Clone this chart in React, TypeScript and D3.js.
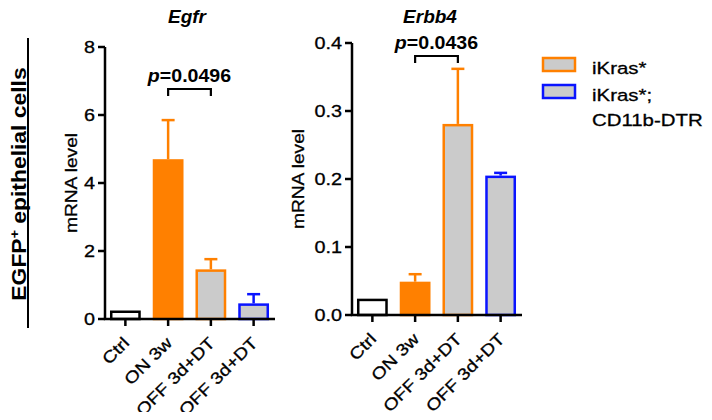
import React from 'react';
import * as d3 from 'd3';

const groups = ['Ctrl', 'ON 3w', 'OFF 3d+DT', 'OFF 3d+DT'];
const egfrMean = [0.25, 4.7, 1.46, 0.46];
const egfrErr = [0, 5.85, 1.76, 0.73];
const erbb4Mean = [0.024, 0.049, 0.281, 0.205];
const erbb4Err = [0, 0.06, 0.362, 0.209];
const egfrTicks = [0, 2, 4, 6, 8];
const erbb4Ticks = [0, 0.1, 0.2, 0.3, 0.4];
const legendLabels = [['iKras*'], ['iKras*;', 'CD11b-DTR']];

const ORANGE = '#ff8000';
const BLUE = '#0a14ff';
const GREY = '#cbcbcb';
const FONT = 'Liberation Sans, Arial, Helvetica, sans-serif';
const SX = 1.18; // the source font runs wider than Arial

const fills = ['#ffffff', ORANGE, GREY, GREY];
const strokes = ['#000000', ORANGE, ORANGE, BLUE];

// text stretched along its own direction
const T = ({ x, y, rot = 0, sx = SX, anchor = 'start', size, weight = 'normal', italic = false, children }: any) => (
  <g transform={`translate(${x},${y}) rotate(${rot}) scale(${sx},1)`}>
    <text textAnchor={anchor} fontSize={size} fontWeight={weight} fontStyle={italic ? 'italic' : 'normal'}
      stroke={weight === 'normal' ? '#000' : 'none'} strokeWidth={0.3}>{children}</text>
  </g>
);

type PanelProps = {
  title: string;
  means: number[];
  errs: number[];
  ticks: number[];
  yMax: number;
  fmt: (v: number) => string;
  x0: number;
  base: number;
  top: number;
  labelX: number;
  pText: string;
  pY: number;
  titleX: number;
};

const Panel = ({ title, means, errs, ticks, yMax, fmt, x0, base, top, labelX, pText, pY, titleX }: PanelProps) => {
  const x = d3.scaleBand<number>()
    .domain(d3.range(groups.length))
    .range([x0 - 1, x0 + 170])
    .paddingInner(0.28)
    .paddingOuter(0.14);
  const y = d3.scaleLinear().domain([0, yMax]).range([base, top]);
  const bw = x.bandwidth();
  const cx = (i: number) => (x(i) as number) + bw / 2;
  const axisEnd = x0 + 170;

  return (
    <g fontFamily={FONT}>
      <T x={titleX} y={23} anchor="middle" size={19} weight="bold" italic sx={1.0}>{title}</T>
      <T x={labelX} y={(base + top) / 2} rot={-90} anchor="middle" size={16} sx={1.2}>mRNA level</T>

      {means.map((m, i) => (
        <g key={i}>
          {errs[i] > m && (
            <g stroke={strokes[i]} strokeWidth={2.5}>
              <line x1={cx(i)} x2={cx(i)} y1={y(m)} y2={y(errs[i])} />
              <line x1={cx(i) - 6.5} x2={cx(i) + 6.5} y1={y(errs[i])} y2={y(errs[i])} />
            </g>
          )}
          <rect x={(x(i) as number) + 1.25} width={bw - 2.5} y={y(m) + 1.25} height={Math.max(0, base - y(m) - 1.25)}
            fill={fills[i]} stroke={strokes[i]} strokeWidth={2.5} />
        </g>
      ))}

      {/* axes */}
      <line x1={x0} x2={x0} y1={top} y2={base} stroke="#000" strokeWidth={2.5} />
      <line x1={x0 - 1.2} x2={axisEnd} y1={base} y2={base} stroke="#000" strokeWidth={2.5} />
      {ticks.map((t) => (
        <g key={t}>
          <line x1={x0 - 7} x2={x0} y1={y(t)} y2={y(t)} stroke="#000" strokeWidth={2.5} />
          <T x={x0 - 10} y={y(t) + 6} anchor="end" size={16.5} sx={1.2}>{fmt(t)}</T>
        </g>
      ))}
      {groups.map((g, i) => (
        <g key={i}>
          <line x1={cx(i)} x2={cx(i)} y1={base} y2={base + 7} stroke="#000" strokeWidth={2.5} />
          <T x={cx(i) + 5} y={base + 25} rot={-45} anchor="end" size={16.5}>{g}</T>
        </g>
      ))}

      {/* significance bracket */}
      <path d={`M${cx(1)},${pY + 7}V${pY}H${cx(2)}V${pY + 7}`} fill="none" stroke="#000" strokeWidth={2.2} />
      <T x={(cx(1) + cx(2)) / 2} y={pY - 7} anchor="middle" size={17.5} weight="bold" sx={1.12}>
        <tspan fontStyle="italic">p</tspan>{pText}
      </T>
    </g>
  );
};

export default function App() {
  return (
    <svg width={712} height={420} style={{ display: 'block', margin: '-8px' }} fontFamily={FONT}>
      <rect width={712} height={420} fill="#fff" />
      <T x={26} y={184} rot={-90} anchor="middle" size={21} weight="bold" sx={1.09}>
        EGFP<tspan baselineShift="super" fontSize={13}>+</tspan> epithelial cells
      </T>
      <line x1={28} x2={28} y1={38} y2={328} stroke="#000" strokeWidth={2} />

      <Panel title="Egfr" means={egfrMean} errs={egfrErr} ticks={egfrTicks} yMax={8}
        fmt={(v) => String(v)} x0={105} base={319} top={47} labelX={77}
        pText="=0.0496" pY={89} titleX={187} />
      <Panel title="Erbb4" means={erbb4Mean} errs={erbb4Err} ticks={erbb4Ticks} yMax={0.4}
        fmt={d3.format('.1f')} x0={352} base={315} top={43} labelX={304}
        pText="=0.0436" pY={56} titleX={430} />

      {legendLabels.map((lines, i) => (
        <g key={i} fontFamily={FONT}>
          <rect x={543} y={58 + i * 27} width={32} height={13} fill={GREY} stroke={i === 0 ? ORANGE : BLUE} strokeWidth={2.5} />
          {lines.map((l, j) => (
            <T key={j} x={592} y={74 + i * 27 + j * 25} size={17} sx={1.2}>{l}</T>
          ))}
        </g>
      ))}
    </svg>
  );
}
